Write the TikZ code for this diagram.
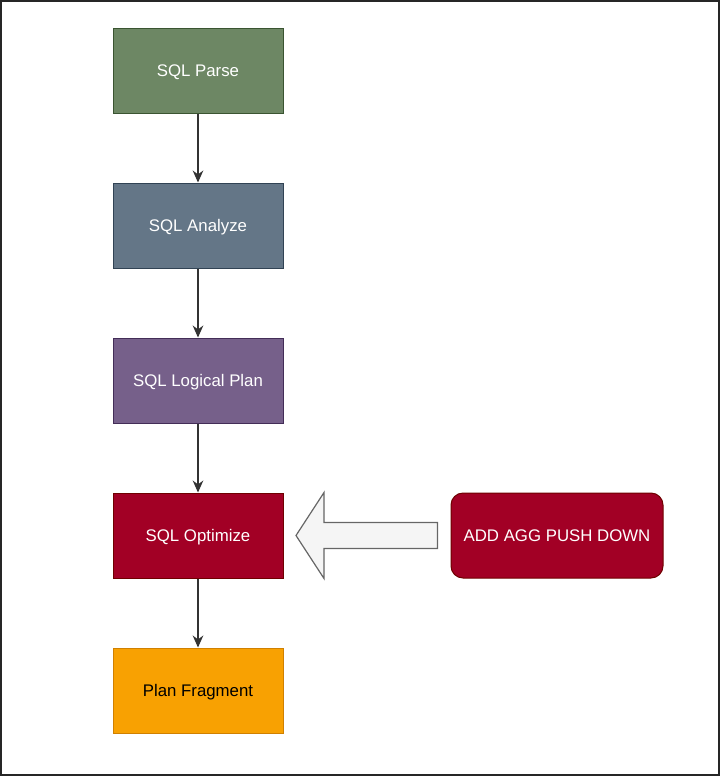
\documentclass[tikz,border=0pt]{standalone}
\usepackage{fontspec}
\setmainfont{Liberation Sans}
\usepackage{xcolor}
\definecolor{parseFill}{HTML}{6D8764}
\definecolor{parseLine}{HTML}{3A5431}
\definecolor{analyzeFill}{HTML}{647687}
\definecolor{analyzeLine}{HTML}{314354}
\definecolor{logicFill}{HTML}{76608A}
\definecolor{logicLine}{HTML}{432D57}
\definecolor{optFill}{HTML}{A20025}
\definecolor{optLine}{HTML}{6F0000}
\definecolor{fragFill}{HTML}{F8A102}
\definecolor{fragLine}{HTML}{D08000}
\definecolor{hintFill}{HTML}{F5F5F5}
\definecolor{hintLine}{HTML}{666666}
\usetikzlibrary{positioning,arrows.meta}

\begin{document}
\begin{tikzpicture}[
  x=0.75pt,y=-0.75pt,
  stage/.style={draw,line width=0.75pt,minimum width=127.5pt,minimum height=63.75pt,
    inner sep=0pt,text height=9pt,text depth=0pt,font=\fontsize{12.6}{15}\selectfont,text=white},
  flow/.style={-{Stealth[length=9pt,width=8pt]},line width=0.9pt,draw=black!80},
  hint/.style={fill=hintFill,draw=hintLine,line width=0.9pt,line join=miter}]

  % page frame
  \draw[line width=1.5pt,black!85] (1,1) rectangle (719,775);

  % pipeline
  \node[stage,fill=parseFill,draw=parseLine] (parse) at (198,70.5) {SQL Parse};
  \node[stage,fill=analyzeFill,draw=analyzeLine] (analyze) at (198,225.5) {SQL Analyze};
  \node[stage,fill=logicFill,draw=logicLine] (logic) at (198,380.5) {SQL Logical Plan};
  \node[stage,fill=optFill,draw=optLine] (optimize) at (198,535.5) {SQL Optimize};
  \node[stage,fill=fragFill,draw=fragLine,text=black] (fragment) at (198,690.5) {Plan Fragment};

  \draw[flow] (parse) -- (analyze);
  \draw[flow] (analyze) -- (logic);
  \draw[flow] (logic) -- (optimize);
  \draw[flow] (optimize) -- (fragment);

  % rule injected into the optimizer
  \node[stage,fill=optFill,draw=optLine,minimum width=159pt,rounded corners=9pt] (pushdown) at (557,535.5) {ADD AGG PUSH DOWN};

  \draw[hint] (296,535.5) -- (324,492.5) -- (324,522.5) -- (437.5,522.5)
    -- (437.5,548.5) -- (324,548.5) -- (324,578.5) -- cycle;
\end{tikzpicture}
\end{document}
